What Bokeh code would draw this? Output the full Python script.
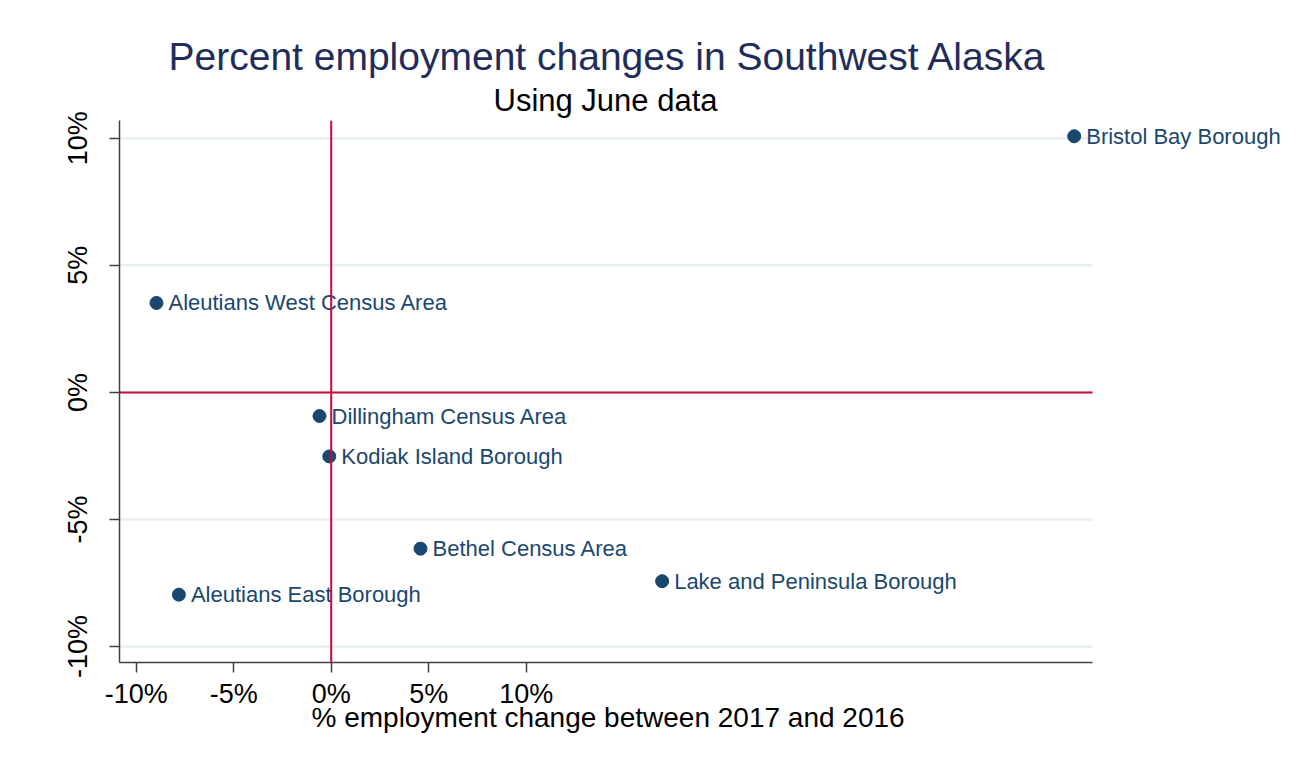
from bokeh.plotting import figure
from bokeh.models import (ColumnDataSource, LabelSet, Span, FixedTicker, Title, Range1d)
from bokeh.core.properties import value
from bokeh.embed import file_html
from bokeh.resources import INLINE

areas = ["Bristol Bay Borough", "Aleutians West Census Area", "Dillingham Census Area",
         "Kodiak Island Borough", "Bethel Census Area", "Lake and Peninsula Borough",
         "Aleutians East Borough"]
pct_change_x = [38.1, -8.96, -0.6, -0.1, 4.58, 16.97, -7.81]
pct_change_y = [10.08, 3.52, -0.93, -2.52, -6.15, -7.43, -7.96]

x_ticks = [-10, -5, 0, 5, 10]
x_tick_labels = ["-10%", "-5%", "0%", "5%", "10%"]
y_ticks = [-10, -5, 0, 5, 10]
y_tick_labels = ["-10%", "-5%", "0%", "5%", "10%"]

FONT = "Liberation Sans"
NAVY = "#1a476f"
RED = "#c90a3b"
GRID = "#e8f0f2"

# axis extents (the frame extends further right so that outside labels are not clipped)
X_START, X_AXIS_END, X_FRAME_END = -10.856, 39.04, 49.55
Y_START, Y_END = -10.63, 10.7

src = ColumnDataSource(dict(x=pct_change_x, y=pct_change_y, name=areas))

p = figure(width=1297, height=759, output_backend="svg", toolbar_location=None,
           x_range=Range1d(X_START, X_FRAME_END), y_range=Range1d(Y_START, Y_END),
           min_border_left=119, min_border_right=0, min_border_top=120,
           min_border_bottom=97)
p.outline_line_color = None
p.background_fill_color = "white"
p.border_fill_color = "white"

p.add_layout(Title(text="Using June data", text_font=FONT, text_font_size="31px",
                   text_font_style="normal", text_color="black", align="left",
                   offset=374, standoff=6), "above")
p.add_layout(Title(text="Percent employment changes in Southwest Alaska", text_font=FONT,
                   text_font_size="39px", text_font_style="normal", text_color="#1f2d5c",
                   align="left", offset=49, standoff=0), "above")

p.xgrid.grid_line_color = None
p.ygrid.grid_line_color = None

# horizontal grid lines limited to the axis extent
grid_src = ColumnDataSource(dict(y=y_ticks, x0=[X_START] * len(y_ticks),
                                 x1=[X_AXIS_END] * len(y_ticks)))
p.segment(x0="x0", x1="x1", y0="y", y1="y", source=grid_src,
          line_color=GRID, line_width=2.5)

for ax, ticks, labels in ((p.xaxis[0], x_ticks, x_tick_labels), (p.yaxis[0], y_ticks, y_tick_labels)):
    ax.ticker = FixedTicker(ticks=ticks)
    ax.major_label_overrides = {t: l for t, l in zip(ticks, labels)}
    ax.minor_tick_line_color = None
    ax.major_tick_out = 10
    ax.major_tick_in = 0
    ax.axis_line_color = "#404040"
    ax.axis_line_width = 1.5
    ax.major_tick_line_color = "#404040"
    ax.major_tick_line_width = 1.5
    ax.major_label_text_font = FONT
    ax.major_label_text_font_size = "27px"
    ax.major_label_text_color = "black"

p.xaxis.bounds = (X_START, X_AXIS_END)
p.yaxis.major_label_orientation = "vertical"
p.yaxis.major_label_standoff = 16
p.xaxis.major_label_standoff = 6

# x-axis title, placed under the tick labels and centred on the drawn axis
p.add_layout(Title(text="% employment change between 2017 and 2016", text_font=FONT,
                   text_font_size="28px", text_font_style="normal", text_color="black",
                   align="left", offset=192, standoff=-20, vertical_align="top"), "below")

p.scatter("x", "y", source=src, size=13, fill_color=NAVY, line_color=NAVY)

labels = LabelSet(x="x", y="y", text="name", source=src, x_offset=12, y_offset=0,
                  text_baseline="middle", text_align="left", text_font=value(FONT),
                  text_font_size=value("22px"), text_color=NAVY)
p.add_layout(labels)

p.segment(x0=[X_START], x1=[X_AXIS_END], y0=[0], y1=[0], line_color=RED, line_width=2)
p.add_layout(Span(location=0, dimension="height", line_color=RED, line_width=2))

open("out.html", "w").write(file_html(p, INLINE))
